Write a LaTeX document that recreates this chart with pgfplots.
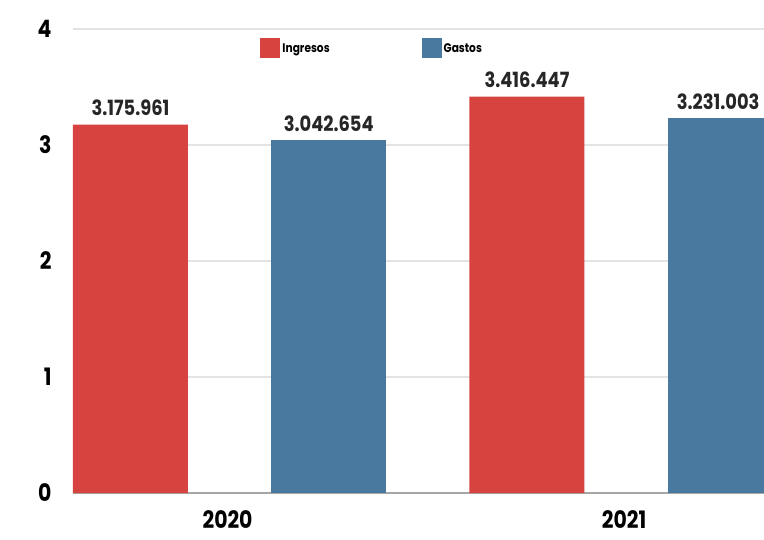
\documentclass[border=0pt]{standalone}
\usepackage{fontspec}
\setmainfont{Poppins}[FakeStretch=0.85]
\usepackage{pgfplots}
\pgfplotsset{compat=1.18}
\definecolor{ingr}{HTML}{D7433F}
\definecolor{gast}{HTML}{4A79A0}
\begin{document}
\begin{tikzpicture}[x=1pt,y=1pt]
\useasboundingbox (0,0) rectangle (764,539);
\begin{axis}[
 at={(73pt,46pt)}, anchor=south west,
 scale only axis, width=691pt, height=464pt,
 xmin=-0.395, xmax=1.348, ymin=0, ymax=4,
 ybar, bar width=0.29,
 xtick={0,1}, xticklabels={2020,2021},
 ytick={0,1,2,3,4},
 major tick length=0pt,
 axis x line*=bottom, axis y line*=left,
 y axis line style={draw=none},
 x axis line style={draw=gray!70, line width=2pt, -},
 ymajorgrids, grid style={draw=gray!22, line width=2pt},
 /pgf/number format/assume math mode=true,
 ticklabel style={font=\fontsize{24}{24}\selectfont\bfseries},
 yticklabel style={xshift=-18pt},
 xticklabel style={yshift=-14pt, xshift=-2pt},
 nodes near coords, point meta=explicit symbolic,
 nodes near coords style={font=\fontsize{21}{21}\selectfont\bfseries, anchor=south, yshift=5pt, text=black!85},
 legend columns=2,
 legend cell align=left,
 legend image code/.code={\fill[#1] (-8pt,-10pt) rectangle (12pt,10pt);},
 legend style={at={(0.271,0.958)}, anchor=west, draw=none, fill=none, inner sep=0pt,
   font=\fontsize{12.5}{12.5}\selectfont\bfseries,
   /tikz/every even column/.append style={column sep=90pt}},
]
\addplot[fill=ingr, draw=none, bar shift=-0.25] coordinates {(0,3.175961) [3.175.961] (1,3.416447) [3.416.447]};
\addlegendentry{Ingresos}
\addplot[fill=gast, draw=none, bar shift=0.25] coordinates {(0,3.042654) [3.042.654]};
\addlegendentry{Gastos}
\addplot[fill=gast, draw=none, bar shift=0.25, forget plot,
  every node near coord/.append style={xshift=-7pt}] coordinates {(1,3.231003) [3.231.003]};
\end{axis}
\end{tikzpicture}
\end{document}
